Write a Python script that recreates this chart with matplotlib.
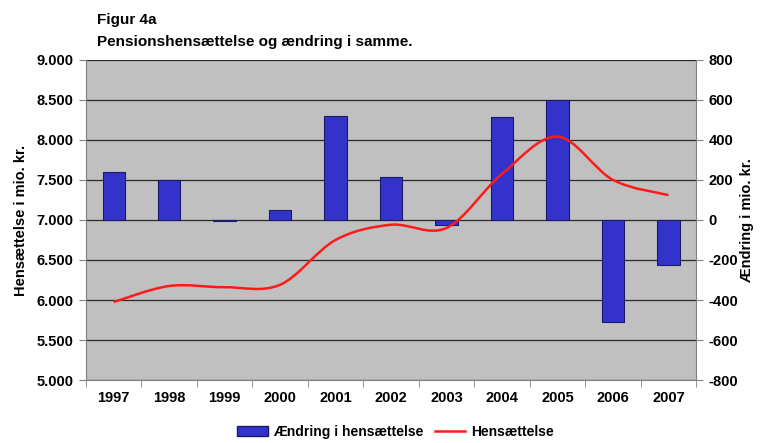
import matplotlib.pyplot as plt
from matplotlib.path import Path
from matplotlib.patches import PathPatch, Patch
from matplotlib.lines import Line2D
from matplotlib.ticker import FuncFormatter, FixedLocator

plt.rcParams["font.family"] = ["Liberation Sans", "DejaVu Sans"]
plt.rcParams["font.weight"] = "bold"
plt.rcParams["axes.unicode_minus"] = False

years = ["1997", "1998", "1999", "2000", "2001", "2002", "2003", "2004", "2005", "2006", "2007"]
aendring = [240, 200, -5, 50, 520, 215, -25, 515, 600, -510, -225]
hensaettelse = [5975, 6175, 6160, 6190, 6750, 6940, 6900, 7575, 8040, 7500, 7310]

BG = "#c0c0c0"
BAR = "#3333cc"
RED = "#ff1a1a"


def smooth_path(xs, ys):
    # Catmull-Rom segments expressed as cubic Bezier curves (Excel-style smoothed line)
    pts = list(zip(xs, ys))
    verts = [pts[0]]
    codes = [Path.MOVETO]
    n = len(pts)
    for i in range(n - 1):
        p0 = pts[i - 1] if i > 0 else pts[i]
        p1 = pts[i]
        p2 = pts[i + 1]
        p3 = pts[i + 2] if i + 2 < n else pts[i + 1]
        c1 = (p1[0] + (p2[0] - p0[0]) / 6, p1[1] + (p2[1] - p0[1]) / 6)
        c2 = (p2[0] - (p3[0] - p1[0]) / 6, p2[1] - (p3[1] - p1[1]) / 6)
        verts += [c1, c2, p2]
        codes += [Path.CURVE4] * 3
    return Path(verts, codes)


fig = plt.figure(figsize=(7.6, 4.43), dpi=100)
ax2 = fig.add_axes([0.113, 0.142, 0.803, 0.723])
ax = ax2.twinx()
ax.yaxis.tick_left()
ax.yaxis.set_label_position("left")
ax2.yaxis.tick_right()
ax2.yaxis.set_label_position("right")

x = list(range(len(years)))

# bars on the right-hand axis
ax2.set_facecolor(BG)
ax2.bar(x, aendring, width=0.4, color=BAR, edgecolor="#1a1a66", linewidth=0.8, zorder=3)
ax2.set_ylim(-800, 800)
ax2.set_yticks(range(-800, 801, 200))
ax2.yaxis.grid(True, color="#2a2a2a", linewidth=0.9, zorder=0)
ax2.set_axisbelow(True)
ax2.set_ylabel("Ændring i mio. kr.", fontsize=10.5, fontweight="bold", rotation=90, labelpad=1)

# smoothed line on the left-hand axis
ax.set_zorder(ax2.get_zorder() + 1)
ax.patch.set_visible(False)
ax.add_patch(PathPatch(smooth_path(x, hensaettelse), facecolor="none", edgecolor=RED, linewidth=1.8, zorder=4))
ax.set_ylim(5000, 9000)
ax.set_yticks(range(5000, 9001, 500))
ax.yaxis.set_major_formatter(FuncFormatter(lambda v, p: f"{v:,.0f}".replace(",", ".")))
ax.set_ylabel("Hensættelse i mio. kr.", fontsize=10.5, fontweight="bold", labelpad=6)

ax2.set_xlim(-0.5, len(years) - 0.5)
ax.set_xlim(-0.5, len(years) - 0.5)
ax2.set_xticks(x)
ax2.set_xticklabels(years)
ax2.xaxis.set_minor_locator(FixedLocator([i - 0.5 for i in range(len(years) + 1)]))
ax2.tick_params(axis="x", which="major", length=0, pad=8, labelsize=10.5)
ax2.tick_params(axis="x", which="minor", length=5, color="#808080")
ax.tick_params(axis="y", labelsize=10.5, length=5, color="#808080", pad=4)
ax2.tick_params(axis="y", labelsize=10.5, length=5, color="#808080", pad=4)
for a in (ax, ax2):
    for s in a.spines.values():
        s.set_visible(False)
ax2.spines["bottom"].set_visible(True)
ax2.spines["bottom"].set_color("#808080")
ax.spines["left"].set_visible(True)
ax.spines["left"].set_color("#808080")
ax.spines["right"].set_visible(True)
ax.spines["right"].set_color("#808080")
for lbl in ax.get_yticklabels() + ax2.get_yticklabels() + ax2.get_xticklabels():
    lbl.set_fontweight("bold")

fig.text(0.128, 0.955, "Figur 4a", fontsize=11, fontweight="bold", va="center")
fig.text(0.128, 0.905, "Pensionshensættelse og ændring i samme.", fontsize=11, fontweight="bold", va="center")

handles = [Patch(facecolor=BAR, edgecolor="#1a1a66"), Line2D([0], [0], color=RED, linewidth=1.8)]
fig.legend(handles, ["Ændring i hensættelse", "Hensættelse"], loc="center", bbox_to_anchor=(0.52, 0.025),
           ncol=2, frameon=False, fontsize=10, handlelength=2.2, columnspacing=0.8, handletextpad=0.4)

fig.savefig("out.png", dpi=100, facecolor="white")
